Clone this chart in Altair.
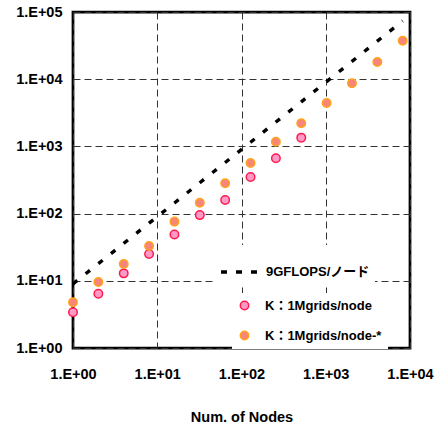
import altair as alt
import pandas as pd

# Node counts used in the weak-scaling runs
nodes = [1, 2, 4, 8, 16, 32, 64, 128, 256, 512, 1024, 2048, 4096, 8192]

# Peak reference: 9 GFLOPS per node
peak_gflops = [9, 18, 36, 72, 144, 288, 576, 1152, 2304, 4608, 9216, 18432, 36864, 73728]

# K computer, 1M grids per node
k_nodes = [1, 2, 4, 8, 16, 32, 64, 128, 256, 512]
k_gflops = [3.4, 6.4, 12.9, 25, 49, 95, 159, 351, 665, 1350]

# K computer, 1M grids per node (tuned run)
kstar_nodes = nodes
kstar_gflops = [4.8, 9.6, 17.8, 33, 76, 145, 282, 566, 1175, 2210, 4420, 8700, 18000, 37400]

PEAK = "9GFLOPS/ノード"
K1 = "K：1Mgrids/node"
K2 = "K：1Mgrids/node-*"

x_ticks = [1, 10, 100, 1000, 10000]
y_ticks = [1, 10, 100, 1000, 10000, 100000]

FONT = "Liberation Sans, Arial, Noto Sans CJK JP, sans-serif"

peak_df = pd.DataFrame({"nodes": nodes, "gflops": peak_gflops, "series": PEAK})
pts_df = pd.concat([
    pd.DataFrame({"nodes": k_nodes, "gflops": k_gflops, "series": K1}),
    pd.DataFrame({"nodes": kstar_nodes, "gflops": kstar_gflops, "series": K2}),
], ignore_index=True)

exp_label = "'1.E+0' + round(log(datum.value) / LN10)"

x_enc = alt.X(
    "nodes:Q",
    scale=alt.Scale(type="log", domain=[1, 10000], nice=False),
    axis=alt.Axis(
        title="Num. of Nodes", values=x_ticks, labelExpr=exp_label,
        grid=True, domain=False, ticks=False, labelPadding=19,
        titlePadding=30, labelFlush=False,
    ),
)
y_enc = alt.Y(
    "gflops:Q",
    scale=alt.Scale(type="log", domain=[1, 100000], nice=False),
    axis=alt.Axis(
        title=None, values=y_ticks, labelExpr=exp_label,
        grid=True, domain=False, ticks=False, labelPadding=11,
    ),
)

peak_line = alt.Chart(peak_df).mark_line(
    color="black", strokeWidth=3.4, strokeDash=[5.5, 10.7], strokeCap="butt"
).encode(
    x=x_enc,
    y=y_enc,
    opacity=alt.Opacity(
        "series:N",
        scale=alt.Scale(domain=[PEAK], range=[1]),
        legend=alt.Legend(
            title=None, orient="none", legendX=141, legendY=233,
            fillColor="white", padding=5,
            symbolType="stroke", symbolSize=1600, symbolStrokeWidth=3.5,
            symbolStrokeColor="black", symbolDash=[6, 9],
            labelOffset=3, labelFont=FONT, labelFontSize=13,
            labelFontWeight="bold", labelColor="black",
        ),
    ),
)

pts_legend = alt.Legend(
    title=None, orient="none", legendX=159, legendY=281,
    fillColor="white", padding=6, rowPadding=15,
    symbolType="circle", symbolSize=70, symbolStrokeWidth=1.5,
    labelOffset=14, labelFont=FONT, labelFontSize=13,
    labelFontWeight="bold", labelColor="black",
)

points = alt.Chart(pts_df).mark_point(
    filled=True, size=72, strokeWidth=1.5, opacity=1
).encode(
    x=x_enc,
    y=y_enc,
    fill=alt.Fill("series:N", scale=alt.Scale(domain=[K1, K2], range=["#ff99c8", "#f7857a"]),
                  legend=pts_legend),
    stroke=alt.Stroke("series:N", scale=alt.Scale(domain=[K1, K2], range=["#ff1a4b", "#ffa41c"]),
                      legend=pts_legend),
)

chart = alt.layer(peak_line, points).properties(
    width=337,
    height=336,
    background="white",
    autosize=alt.AutoSizeParams(type="none"),
    padding={"left": 73, "top": 12, "right": 28, "bottom": 79},
).configure_view(
    stroke="black", strokeWidth=2.75, fill="white"
).configure_axis(
    labelFont=FONT, labelFontSize=14.5, labelFontWeight="bold", labelColor="black",
    titleFont=FONT, titleFontSize=14.5, titleFontWeight="bold", titleColor="black",
    gridColor="#333333", gridDash=[7, 4], gridWidth=1, gridOpacity=1,
)

chart.save("out.html", embed_options={"renderer": "svg", "actions": False})
